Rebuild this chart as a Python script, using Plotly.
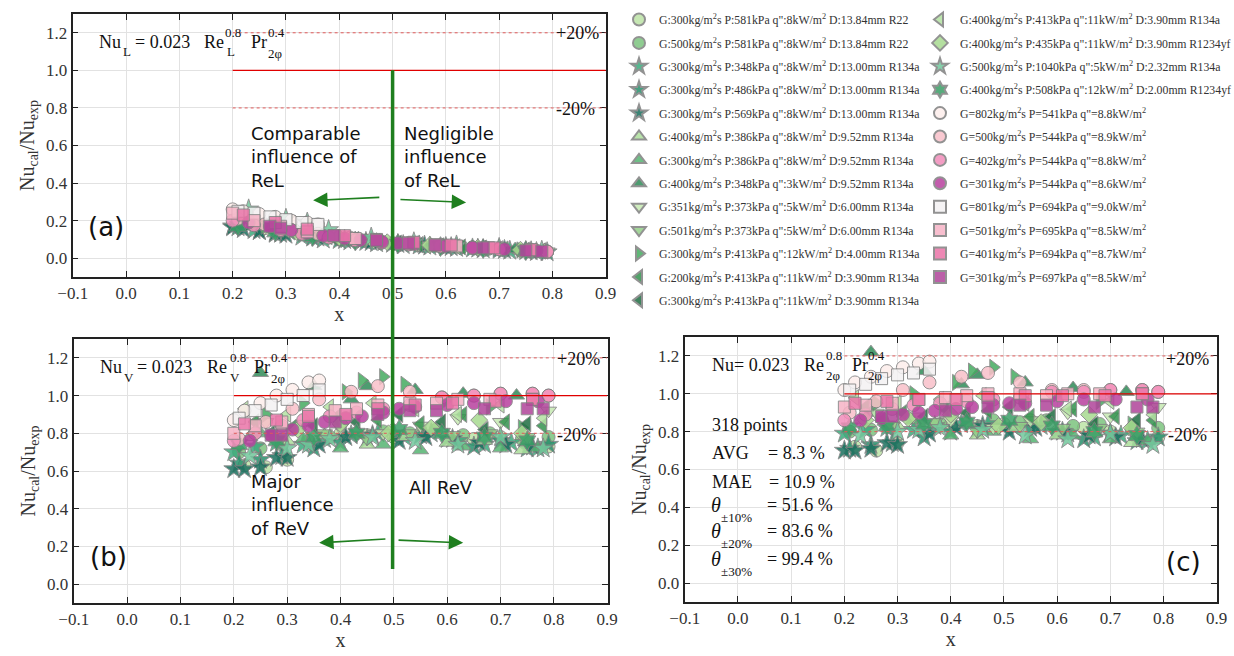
import plotly.graph_objects as go

W, H = 1234, 656
SERIF = "Liberation Serif"
SANS = "DejaVu Sans"


def px(x):
    return x / W


def py(y):
    return 1 - y / H


# ---------------- series metadata ----------------
labels = [
    'G:300kg/m<sup>2</sup>s P:581kPa q":8kW/m<sup>2</sup> D:13.84mm R22',
    'G:500kg/m<sup>2</sup>s P:581kPa q":8kW/m<sup>2</sup> D:13.84mm R22',
    'G:300kg/m<sup>2</sup>s P:348kPa q":8kW/m<sup>2</sup> D:13.00mm R134a',
    'G:300kg/m<sup>2</sup>s P:486kPa q":8kW/m<sup>2</sup> D:13.00mm R134a',
    'G:300kg/m<sup>2</sup>s P:569kPa q":8kW/m<sup>2</sup> D:13.00mm R134a',
    'G:400kg/m<sup>2</sup>s P:386kPa q":8kW/m<sup>2</sup> D:9.52mm R134a',
    'G:300kg/m<sup>2</sup>s P:386kPa q":8kW/m<sup>2</sup> D:9.52mm R134a',
    'G:400kg/m<sup>2</sup>s P:348kPa q":3kW/m<sup>2</sup> D:9.52mm R134a',
    'G:351kg/m<sup>2</sup>s P:373kPa q":5kW/m<sup>2</sup> D:6.00mm R134a',
    'G:501kg/m<sup>2</sup>s P:373kPa q":5kW/m<sup>2</sup> D:6.00mm R134a',
    'G:300kg/m<sup>2</sup>s P:413kPa q":12kW/m<sup>2</sup> D:4.00mm R134a',
    'G:200kg/m<sup>2</sup>s P:413kPa q":11kW/m<sup>2</sup> D:3.90mm R134a',
    'G:300kg/m<sup>2</sup>s P:413kPa q":11kW/m<sup>2</sup> D:3.90mm R134a',
    'G:400kg/m<sup>2</sup>s P:413kPa q":11kW/m<sup>2</sup> D:3.90mm R134a',
    'G:400kg/m<sup>2</sup>s P:435kPa q":11kW/m<sup>2</sup> D:3.90mm R1234yf',
    'G:500kg/m<sup>2</sup>s P:1040kPa q":5kW/m<sup>2</sup> D:2.32mm R134a',
    'G:400kg/m<sup>2</sup>s P:508kPa q":12kW/m<sup>2</sup> D:2.00mm R1234yf',
    'G=802kg/m<sup>2</sup>s P=541kPa q"=8.8kW/m<sup>2</sup>',
    'G=500kg/m<sup>2</sup>s P=544kPa q"=8.9kW/m<sup>2</sup>',
    'G=402kg/m<sup>2</sup>s P=544kPa q"=8.8kW/m<sup>2</sup>',
    'G=301kg/m<sup>2</sup>s P=544kPa q"=8.6kW/m<sup>2</sup>',
    'G=801kg/m<sup>2</sup>s P=694kPa q"=9.0kW/m<sup>2</sup>',
    'G=501kg/m<sup>2</sup>s P=695kPa q"=8.5kW/m<sup>2</sup>',
    'G=401kg/m<sup>2</sup>s P=694kPa q"=8.7kW/m<sup>2</sup>',
    'G=301kg/m<sup>2</sup>s P=697kPa q"=8.5kW/m<sup>2</sup>',
]

symbols = ['circle', 'circle', 'star', 'star', 'star',
           'triangle-up', 'triangle-up', 'triangle-up',
           'triangle-down', 'triangle-down', 'triangle-right',
           'triangle-left', 'triangle-left', 'triangle-left',
           'diamond', 'star', 'hexagram',
           'circle', 'circle', 'circle', 'circle',
           'square', 'square', 'square', 'square']

colors = ['#bde3a6', '#7cc47e', '#3aab7c', '#27906c', '#1b6f5e',
          '#ade09c', '#55b572', '#2f8b58',
          '#c6e9b2', '#93cf88', '#45ab60',
          '#33924e', '#1f6e42', '#b3e2a2',
          '#a8da90', '#72c79c', '#3a9e66',
          '#fdeeec', '#f9c0c9', '#f28dba', '#b8409e',
          '#f4f2f3', '#f6b3c6', '#ea74a8', '#b0449a']

sizes = [13, 13, 15, 15, 15, 14, 14, 14, 14, 14, 14, 14, 14, 14, 13, 15, 15,
         13, 13, 13, 13, 12, 12, 12, 12]

# ---------------- data (x, panel a, panel b, panel c) ----------------
s01_x = [0.22, 0.26, 0.30, 0.40, 0.45, 0.50, 0.55, 0.60, 0.65, 0.70, 0.75, 0.79]
s01_a = [0.18, 0.16, 0.14, 0.10, 0.09, 0.08, 0.07, 0.065, 0.058, 0.05, 0.042, 0.035]
s01_b = [0.63, 0.62, 0.66, 0.80, 0.79, 0.78, 0.80, 0.78, 0.77, 0.78, 0.75, 0.73]
s01_c = [0.72, 0.70, 0.74, 0.84, 0.83, 0.84, 0.86, 0.80, 0.82, 0.80, 0.78, 0.77]

s02_x = [0.21, 0.25, 0.29, 0.34, 0.38, 0.43, 0.48, 0.53, 0.58, 0.63, 0.68, 0.74, 0.79]
s02_a = [0.19, 0.17, 0.15, 0.125, 0.11, 0.095, 0.085, 0.075, 0.066, 0.058, 0.05, 0.042, 0.034]
s02_b = [0.70, 0.72, 0.74, 0.76, 0.78, 0.80, 0.81, 0.80, 0.82, 0.79, 0.80, 0.77, 0.78]
s02_c = [0.80, 0.81, 0.82, 0.83, 0.84, 0.85, 0.86, 0.85, 0.86, 0.83, 0.84, 0.81, 0.82]

s03_x = [0.20, 0.24, 0.28, 0.33, 0.37, 0.42, 0.47, 0.52, 0.57, 0.62, 0.67, 0.72, 0.77]
s03_a = [0.17, 0.15, 0.13, 0.115, 0.10, 0.09, 0.08, 0.07, 0.062, 0.055, 0.048, 0.04, 0.033]
s03_b = [0.70, 0.73, 0.75, 0.74, 0.77, 0.79, 0.80, 0.78, 0.80, 0.76, 0.74, 0.75, 0.72]
s03_c = [0.79, 0.81, 0.82, 0.81, 0.83, 0.84, 0.84, 0.82, 0.83, 0.79, 0.77, 0.78, 0.75]

s04_x = [0.21, 0.25, 0.29, 0.35, 0.40, 0.45, 0.50, 0.55, 0.60, 0.65, 0.70, 0.75, 0.79]
s04_a = [0.165, 0.145, 0.13, 0.11, 0.097, 0.087, 0.077, 0.068, 0.06, 0.052, 0.045, 0.038, 0.032]
s04_b = [0.64, 0.66, 0.68, 0.72, 0.75, 0.77, 0.80, 0.79, 0.77, 0.73, 0.76, 0.72, 0.74]
s04_c = [0.71, 0.73, 0.74, 0.77, 0.80, 0.81, 0.83, 0.82, 0.80, 0.76, 0.79, 0.75, 0.77]

s05_x = [0.20, 0.22, 0.25, 0.28, 0.30, 0.36, 0.41, 0.46, 0.51, 0.56, 0.61, 0.66, 0.71, 0.76]
s05_a = [0.165, 0.155, 0.145, 0.135, 0.125, 0.11, 0.097, 0.086, 0.076, 0.067, 0.059, 0.051, 0.044, 0.037]
s05_b = [0.61, 0.61, 0.62, 0.67, 0.67, 0.74, 0.78, 0.79, 0.76, 0.78, 0.77, 0.75, 0.74, 0.73]
s05_c = [0.70, 0.70, 0.71, 0.74, 0.73, 0.79, 0.82, 0.83, 0.80, 0.82, 0.80, 0.78, 0.77, 0.76]

s06_x = [0.23, 0.30, 0.37, 0.45, 0.52, 0.60, 0.67, 0.74]
s06_a = [0.19, 0.15, 0.12, 0.095, 0.078, 0.063, 0.052, 0.042]
s06_b = [0.78, 0.76, 0.79, 0.74, 0.78, 0.75, 0.76, 0.71]
s06_c = [0.86, 0.83, 0.84, 0.78, 0.82, 0.78, 0.79, 0.74]

s07_x = [0.25, 0.33, 0.40, 0.48, 0.55, 0.63, 0.70, 0.77]
s07_a = [0.17, 0.13, 0.105, 0.085, 0.072, 0.06, 0.05, 0.04]
s07_b = [0.80, 0.77, 0.72, 0.74, 0.71, 0.73, 0.72, 0.72]
s07_c = [0.90, 0.86, 0.78, 0.80, 0.76, 0.78, 0.76, 0.75]

s08_x = [0.25, 0.35, 0.42, 0.45, 0.54, 0.63, 0.73]
s08_a = [0.18, 0.13, 0.10, 0.095, 0.075, 0.06, 0.048]
s08_b = [1.12, 1.05, 0.98, 1.05, 1.03, 1.01, 1.00]
s08_c = [1.22, 1.12, 1.05, 1.10, 1.06, 1.03, 1.01]

s09_x = [0.26, 0.33, 0.40, 0.48, 0.55, 0.62, 0.70, 0.79]
s09_a = [0.16, 0.13, 0.10, 0.082, 0.07, 0.058, 0.048, 0.036]
s09_b = [0.86, 0.85, 0.83, 0.80, 0.84, 0.88, 0.86, 0.92]
s09_c = [0.90, 0.88, 0.86, 0.82, 0.86, 0.90, 0.88, 0.93]

s10_x = [0.29, 0.37, 0.45, 0.53, 0.61, 0.68, 0.75]
s10_a = [0.15, 0.12, 0.095, 0.078, 0.063, 0.052, 0.042]
s10_b = [0.78, 0.80, 0.77, 0.80, 0.79, 0.80, 0.78]
s10_c = [0.83, 0.85, 0.80, 0.83, 0.82, 0.82, 0.80]

s11_x = [0.26, 0.33, 0.41, 0.44, 0.48, 0.52, 0.60, 0.68, 0.74]
s11_a = [0.17, 0.13, 0.10, 0.095, 0.085, 0.077, 0.063, 0.052, 0.044]
s11_b = [0.90, 0.96, 1.02, 1.08, 1.10, 1.06, 0.98, 0.94, 0.83]
s11_c = [0.95, 1.00, 1.06, 1.12, 1.14, 1.09, 1.00, 0.96, 0.84]

s12_x = [0.24, 0.31, 0.39, 0.47, 0.55, 0.63, 0.71, 0.78]
s12_a = [0.18, 0.14, 0.11, 0.088, 0.072, 0.06, 0.049, 0.038]
s12_b = [0.86, 0.83, 0.88, 0.87, 0.85, 0.90, 0.86, 0.84]
s12_c = [0.93, 0.90, 0.92, 0.91, 0.88, 0.92, 0.88, 0.86]

s13_x = [0.27, 0.35, 0.43, 0.51, 0.59, 0.67, 0.75]
s13_a = [0.16, 0.125, 0.10, 0.08, 0.066, 0.054, 0.043]
s13_b = [0.80, 0.84, 0.86, 0.90, 0.86, 0.82, 0.85]
s13_c = [0.86, 0.88, 0.90, 0.93, 0.88, 0.84, 0.86]

s14_x = [0.22, 0.30, 0.38, 0.46, 0.54, 0.62, 0.70, 0.78]
s14_a = [0.20, 0.15, 0.115, 0.09, 0.074, 0.061, 0.05, 0.039]
s14_b = [0.93, 0.90, 0.94, 0.96, 0.93, 0.90, 0.95, 0.88]
s14_c = [0.98, 0.95, 0.97, 0.99, 0.95, 0.92, 0.96, 0.89]

s15_x = [0.24, 0.32, 0.40, 0.49, 0.57, 0.66, 0.74]
s15_a = [0.19, 0.14, 0.11, 0.085, 0.07, 0.056, 0.045]
s15_b = [0.80, 0.82, 0.85, 0.80, 0.83, 0.87, 0.80]
s15_c = [0.86, 0.87, 0.89, 0.83, 0.85, 0.89, 0.82]

s16_x = [0.23, 0.30, 0.34, 0.38, 0.46, 0.54, 0.62, 0.70, 0.78]
s16_a = [0.26, 0.21, 0.19, 0.15, 0.11, 0.085, 0.068, 0.055, 0.04]
s16_b = [0.68, 0.72, 0.74, 0.77, 0.78, 0.76, 0.74, 0.78, 0.72]
s16_c = [0.78, 0.80, 0.81, 0.82, 0.81, 0.78, 0.76, 0.79, 0.73]

s17_x = [0.21, 0.28, 0.35, 0.43, 0.51, 0.59, 0.67, 0.75]
s17_a = [0.17, 0.14, 0.115, 0.092, 0.076, 0.062, 0.051, 0.04]
s17_b = [0.74, 0.76, 0.78, 0.80, 0.82, 0.80, 0.78, 0.76]
s17_c = [0.82, 0.83, 0.84, 0.85, 0.86, 0.83, 0.80, 0.78]

s18_x = [0.20, 0.22, 0.25, 0.28, 0.31, 0.34, 0.36]
s18_a = [0.26, 0.25, 0.235, 0.22, 0.20, 0.19, 0.18]
s18_b = [0.87, 0.92, 0.96, 1.00, 1.03, 1.07, 1.08]
s18_c = [1.02, 1.06, 1.09, 1.12, 1.14, 1.16, 1.17]

s19_x = [0.21, 0.26, 0.31, 0.36, 0.42, 0.47, 0.53, 0.59, 0.65, 0.70, 0.76, 0.79]
s19_a = [0.21, 0.18, 0.15, 0.13, 0.11, 0.095, 0.08, 0.068, 0.057, 0.05, 0.042, 0.036]
s19_b = [0.77, 0.86, 0.93, 0.98, 1.02, 1.05, 1.02, 0.99, 1.00, 1.01, 1.01, 1.00]
s19_c = [0.90, 0.96, 1.02, 1.06, 1.09, 1.11, 1.06, 1.02, 1.02, 1.02, 1.02, 1.01]

s20_x = [0.20, 0.24, 0.29, 0.33, 0.38, 0.43, 0.48, 0.53, 0.59, 0.65, 0.70, 0.76, 0.79]
s20_a = [0.20, 0.175, 0.15, 0.13, 0.11, 0.095, 0.083, 0.073, 0.063, 0.054, 0.047, 0.04, 0.035]
s20_b = [0.76, 0.80, 0.84, 0.87, 0.89, 0.91, 0.93, 0.95, 0.99, 1.00, 1.01, 1.01, 1.00]
s20_c = [0.86, 0.89, 0.92, 0.94, 0.95, 0.96, 0.97, 0.98, 1.01, 1.01, 1.02, 1.02, 1.01]

s21_x = [0.23, 0.27, 0.31, 0.34, 0.37, 0.41, 0.44, 0.48, 0.51, 0.54, 0.60, 0.65, 0.71, 0.77]
s21_a = [0.19, 0.17, 0.15, 0.135, 0.12, 0.105, 0.097, 0.088, 0.08, 0.075, 0.065, 0.056, 0.048, 0.04]
s21_b = [0.76, 0.79, 0.82, 0.84, 0.86, 0.88, 0.89, 0.91, 0.93, 0.94, 0.95, 0.96, 0.97, 0.97]
s21_c = [0.86, 0.87, 0.89, 0.90, 0.91, 0.92, 0.93, 0.94, 0.95, 0.95, 0.96, 0.97, 0.97, 0.97]

s22_x = [0.21, 0.24, 0.27, 0.30, 0.33, 0.36]
s22_a = [0.25, 0.24, 0.22, 0.205, 0.19, 0.18]
s22_b = [0.88, 0.92, 0.95, 0.98, 1.00, 1.03]
s22_c = [1.02, 1.05, 1.08, 1.10, 1.11, 1.13]

s23_x = [0.20, 0.24, 0.29, 0.34, 0.39, 0.43, 0.47, 0.53, 0.58, 0.62, 0.68, 0.76]
s23_a = [0.24, 0.20, 0.17, 0.14, 0.12, 0.105, 0.095, 0.082, 0.072, 0.065, 0.056, 0.045]
s23_b = [0.80, 0.84, 0.86, 0.90, 0.92, 0.93, 0.95, 0.96, 0.96, 0.98, 0.98, 0.98]
s23_c = [0.93, 0.94, 0.95, 0.97, 0.98, 0.99, 1.00, 1.00, 0.99, 1.00, 1.00, 1.00]

s24_x = [0.22, 0.28, 0.34, 0.41, 0.47, 0.54, 0.61, 0.69, 0.76]
s24_a = [0.23, 0.19, 0.155, 0.12, 0.10, 0.085, 0.07, 0.055, 0.045]
s24_b = [0.85, 0.87, 0.89, 0.90, 0.93, 0.95, 0.96, 0.97, 0.98]
s24_c = [0.95, 0.96, 0.97, 0.97, 0.98, 0.99, 0.99, 0.99, 1.00]

s25_x = [0.27, 0.29, 0.39, 0.47, 0.53, 0.58, 0.67, 0.75, 0.78]
s25_a = [0.17, 0.16, 0.12, 0.095, 0.08, 0.07, 0.055, 0.04, 0.037]
s25_b = [0.79, 0.79, 0.86, 0.90, 0.92, 0.92, 0.93, 0.93, 0.93]
s25_c = [0.88, 0.88, 0.91, 0.93, 0.94, 0.94, 0.93, 0.93, 0.93]

xs = [s01_x, s02_x, s03_x, s04_x, s05_x, s06_x, s07_x, s08_x, s09_x, s10_x,
      s11_x, s12_x, s13_x, s14_x, s15_x, s16_x, s17_x, s18_x, s19_x, s20_x,
      s21_x, s22_x, s23_x, s24_x, s25_x]
ya = [s01_a, s02_a, s03_a, s04_a, s05_a, s06_a, s07_a, s08_a, s09_a, s10_a,
      s11_a, s12_a, s13_a, s14_a, s15_a, s16_a, s17_a, s18_a, s19_a, s20_a,
      s21_a, s22_a, s23_a, s24_a, s25_a]
yb = [s01_b, s02_b, s03_b, s04_b, s05_b, s06_b, s07_b, s08_b, s09_b, s10_b,
      s11_b, s12_b, s13_b, s14_b, s15_b, s16_b, s17_b, s18_b, s19_b, s20_b,
      s21_b, s22_b, s23_b, s24_b, s25_b]
yc = [s01_c, s02_c, s03_c, s04_c, s05_c, s06_c, s07_c, s08_c, s09_c, s10_c,
      s11_c, s12_c, s13_c, s14_c, s15_c, s16_c, s17_c, s18_c, s19_c, s20_c,
      s21_c, s22_c, s23_c, s24_c, s25_c]

x_ticks = [-0.1, 0.0, 0.1, 0.2, 0.3, 0.4, 0.5, 0.6, 0.7, 0.8, 0.9]
y_ticks = [0.0, 0.2, 0.4, 0.6, 0.8, 1.0, 1.2]
X_RANGE = [-0.1, 0.9]
Y_RANGE = [-0.1, 1.3]

ref_line = 1.0           # perfect agreement
band_lines = [1.2, 0.8]  # +/-20 %
ref_start = 0.2
split_x = 0.5            # green divider
split_top = 1.0          # in panel (a) units
split_bottom = 0.08      # in panel (b) units

# ---------------- layout geometry ----------------
A_dx, A_dy = [px(72.5), px(606)], [py(277), py(14)]
B_dx, B_dy = [px(73.5), px(607.5)], [py(603), py(339)]
C_dx, C_dy = [px(684.5), px(1217)], [py(602), py(337)]


def paper_x(dom, v):
    return dom[0] + (v - X_RANGE[0]) / (X_RANGE[1] - X_RANGE[0]) * (dom[1] - dom[0])


def paper_y(dom, v):
    return dom[0] + (v - Y_RANGE[0]) / (Y_RANGE[1] - Y_RANGE[0]) * (dom[1] - dom[0])


fig = go.Figure()
panels = [('x', 'y', ya), ('x2', 'y2', yb), ('x3', 'y3', yc)]
for k, (xa, yax, ydata) in enumerate(panels):
    for i in range(25):
        fig.add_trace(go.Scatter(
            x=xs[i], y=ydata[i], mode='markers', name=labels[i],
            legendgroup='g%d' % i, showlegend=(k == 0),
            legend='legend' if i < 13 else 'legend2',
            xaxis=xa, yaxis=yax,
            marker=dict(symbol=symbols[i], size=sizes[i], color=colors[i],
                        opacity=0.85, line=dict(color='#808080', width=1)),
        ))

axis_common = dict(
    showgrid=True, gridcolor='#e2e2e2', gridwidth=1, zeroline=False,
    showline=True, linecolor='#222', linewidth=1.5, mirror='ticks',
    ticks='inside', ticklen=6, tickcolor='#222', tickwidth=1.2, automargin=False,
    tickfont=dict(family=SERIF, size=17, color='#333'), tickformat='.1f',
)
xt = dict(axis_common, range=[X_RANGE[0] - 0.0005, X_RANGE[1] + 0.0005],
          tickvals=x_ticks,
          title=dict(text='x', font=dict(family=SERIF, size=20, color='#333'), standoff=4))
yt = dict(axis_common, range=Y_RANGE, tickvals=y_ticks,
          title=dict(text='Nu<sub>cal</sub>/Nu<sub>exp</sub>',
                     font=dict(family=SERIF, size=20, color='#333'), standoff=6))

fig.update_layout(
    xaxis=dict(xt, domain=A_dx, anchor='y'),
    yaxis=dict(yt, domain=A_dy, anchor='x'),
    xaxis2=dict(xt, domain=B_dx, anchor='y2'),
    yaxis2=dict(yt, domain=B_dy, anchor='x2'),
    xaxis3=dict(xt, domain=C_dx, anchor='y3'),
    yaxis3=dict(yt, domain=C_dy, anchor='x3'),
)

shapes = []
for xa, yax in [('x', 'y'), ('x2', 'y2'), ('x3', 'y3')]:
    shapes.append(dict(type='line', xref=xa, yref=yax, x0=ref_start, x1=X_RANGE[1],
                       y0=ref_line, y1=ref_line, line=dict(color='#e00000', width=1.3)))
    for b in band_lines:
        shapes.append(dict(type='line', xref=xa, yref=yax, x0=ref_start, x1=X_RANGE[1],
                           y0=b, y1=b, line=dict(color='#e05a5a', width=1, dash='dot')))
gx = paper_x(A_dx, split_x)
shapes.append(dict(type='line', xref='paper', yref='paper', x0=gx, x1=gx,
                   y0=paper_y(B_dy, split_bottom), y1=paper_y(A_dy, split_top),
                   line=dict(color='#1f7f1f', width=3.5)))
fig.update_layout(shapes=shapes)

ann = []


def txt(x, y, s, size=18, family=SERIF, xanchor='left', color='#111'):
    ann.append(dict(xref='paper', yref='paper', x=px(x), y=py(y), text=s,
                    showarrow=False, xanchor=xanchor, yanchor='middle', align='left',
                    font=dict(family=family, size=size, color=color)))


PHI = '2φ'
# formulas
txt(97, 42, 'Nu'); txt(121, 52, 'L', 13); txt(133, 42, '= 0.023'); txt(202, 42, 'Re')
txt(223, 32, '0.8', 13); txt(225, 52, 'L', 13); txt(249, 42, 'Pr')
txt(266, 32, '0.4', 13); txt(266, 53, PHI, 13)

txt(98, 367, 'Nu'); txt(122, 377, 'V', 13); txt(135, 367, '= 0.023'); txt(205, 367, 'Re')
txt(228, 357, '0.8', 13); txt(228, 377, 'V', 13); txt(252, 367, 'Pr')
txt(269, 357, '0.4', 13); txt(269, 378, PHI, 13)

txt(710, 365, 'Nu= 0.023'); txt(802, 365, 'Re')
txt(824, 355, '0.8', 13); txt(824, 375, PHI, 13); txt(850, 365, 'Pr')
txt(866, 355, '0.4', 13); txt(866, 376, PHI, 13)

# +/- 20 % labels
txt(577, 33, '+20%', xanchor='center'); txt(575, 109, '-20%', xanchor='center')
txt(578, 359, '+20%', xanchor='center'); txt(576, 435, '-20%', xanchor='center')
txt(1187, 359, '+20%', xanchor='center'); txt(1187, 435, '-20%', xanchor='center')

# region descriptions
txt(249, 157, 'Comparable<br>influence of<br>ReL', 18, SANS)
txt(402, 157, 'Negligible<br>influence<br>of ReL', 18, SANS)
txt(249, 505, 'Major<br>influence<br>of ReV', 18, SANS)
txt(407, 487, 'All ReV', 18, SANS)
txt(86, 227, '(a)', 26, SANS); txt(88, 557, '(b)', 26, SANS); txt(1164, 562, '(c)', 26, SANS)

# statistics
txt(710, 425, '318 points')
txt(710, 453, 'AVG'); txt(766, 453, '= 8.3 %')
txt(710, 482, 'MAE'); txt(767, 482, '= 10.9 %')
for yy, sub, val in [(505, '±10%', '= 51.6 %'), (531, '±20%', '= 83.6 %'), (559, '±30%', '= 99.4 %')]:
    txt(709, yy, '<i>θ</i>', 20)
    txt(719, yy + 12, sub, 13)
    txt(765, yy, val)

# arrows
arrow_specs = [('x', 'y', 0.478, 0.324, 0.351, 0.308), ('x', 'y', 0.512, 0.313, 0.638, 0.297),
               ('x2', 'y2', 0.487, 0.240, 0.360, 0.219), ('x2', 'y2', 0.506, 0.234, 0.630, 0.219)]
for xa, yax, tx, ty, hx, hy in arrow_specs:
    ann.append(dict(xref=xa, yref=yax, axref=xa, ayref=yax, x=hx, y=hy, ax=tx, ay=ty,
                    text='', showarrow=True, arrowhead=2, arrowsize=1.8, arrowwidth=1.6,
                    arrowcolor='#1f7f1f'))

fig.update_layout(annotations=ann)

leg_common = dict(font=dict(family=SERIF, size=11.8, color='#333'), bgcolor='rgba(0,0,0,0)',
                  borderwidth=0, tracegroupgap=4.4, itemwidth=30, itemsizing='constant',
                  xanchor='left', yanchor='top', itemclick=False, itemdoubleclick=False)
fig.update_layout(
    legend=dict(leg_common, x=px(619), y=py(5)),
    legend2=dict(leg_common, x=px(920), y=py(5)),
    width=W, height=H, margin=dict(l=0, r=0, t=0, b=0, autoexpand=False),
    paper_bgcolor='white', plot_bgcolor='white',
)

fig.write_html("out.html")
